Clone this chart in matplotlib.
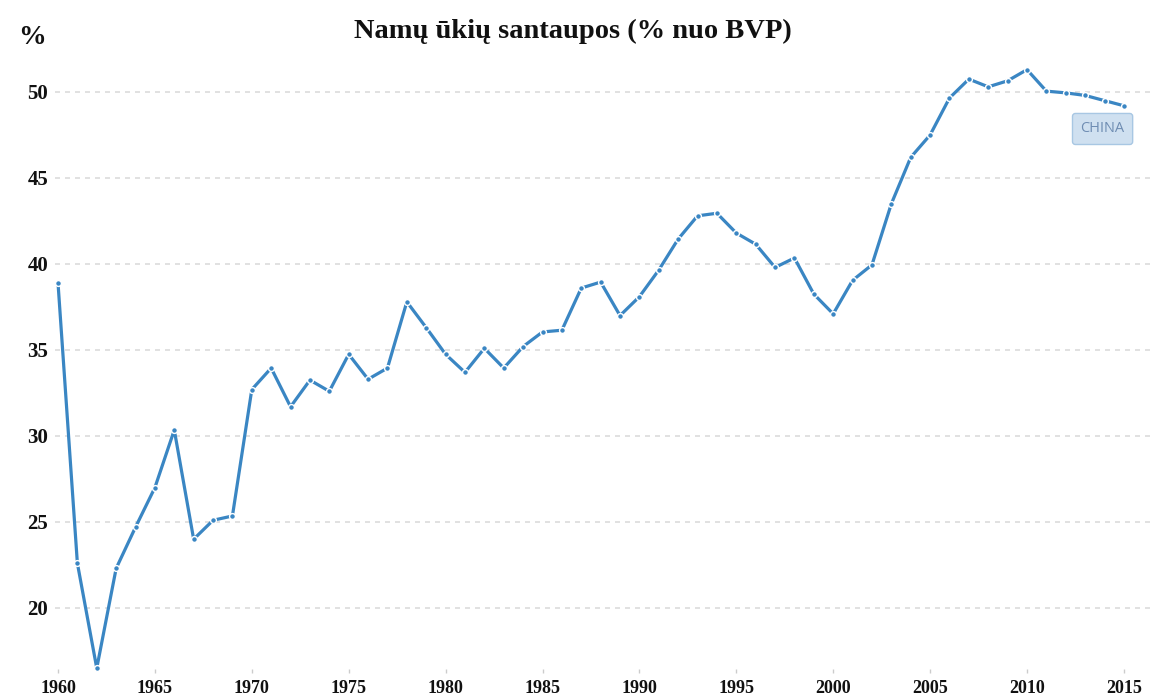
import matplotlib.pyplot as plt

# datos
anios = list(range(1960, 2016))
ahorro = [38.9, 22.6, 16.5, 22.3, 24.7, 27.0, 30.35, 24.0, 25.1, 25.35,
          32.7, 33.95, 31.7, 33.25, 32.6, 34.75, 33.3, 33.95, 37.8, 36.3,
          34.75, 33.7, 35.1, 33.95, 35.2, 36.05, 36.15, 38.6, 38.95, 37.0,
          38.1, 39.65, 41.45, 42.8, 42.95, 41.8, 41.15, 39.8, 40.35, 38.25,
          37.1, 39.05, 39.95, 43.5, 46.2, 47.5, 49.65, 50.75, 50.3, 50.65,
          51.3, 50.05, 49.95, 49.8, 49.5, 49.2]
ticks_x = [1960, 1965, 1970, 1975, 1980, 1985, 1990, 1995, 2000, 2005, 2010, 2015]
ticks_y = [20, 25, 30, 35, 40, 45, 50]

W, H = 1153, 697
fig = plt.figure(figsize=(W / 100, H / 100), dpi=100)
# ejes en pixeles: x 55..1150, y 40..669
ax = fig.add_axes([55 / W, (H - 669) / H, (1150 - 55) / W, (669 - 40) / H])

color = '#3a86c3'
ax.plot(anios, ahorro, color=color, lw=2.3, marker='o', ms=4.2,
        mfc=color, mec='white', mew=1.0, zorder=3, clip_on=False)

ax.set_xlim(1960 - 3 / 19.38, 1960 + (1150 - 58) / 19.38)
ax.set_ylim(50 - (669 - 92) / 17.2, 50 + (92 - 40) / 17.2)

ax.set_xticks(ticks_x)
ax.set_yticks(ticks_y)
ax.grid(axis='y', color='#dcdcdc', lw=1.2, ls=(0, (3, 3)))
ax.set_axisbelow(True)
for s in ax.spines.values():
    s.set_visible(False)

ax.tick_params(axis='x', length=3, width=1, color='#cccccc', pad=5,
               labelsize=13, labelcolor='#111111')
ax.tick_params(axis='y', length=0, pad=5, labelsize=15, labelcolor='#111111')
for lab in ax.get_xticklabels() + ax.get_yticklabels():
    lab.set_fontfamily('Liberation Serif')
    lab.set_fontweight('bold')

fig.text(573 / W, 1 - 31 / H, 'Namų ūkių santaupos (% nuo BVP)',
         ha='center', va='center', fontsize=20.5, fontweight='bold',
         family='Liberation Serif', color='#111111')
fig.text(18 / W, 1 - 38 / H, '%', ha='left', va='center', fontsize=20,
         fontweight='bold', family='Liberation Serif', color='#111111')

ax.text(2013.9, 47.85, 'CHINA', ha='center', va='center', fontsize=10.5,
        color='#6f8db3', family='Open Sans', zorder=4,
        bbox=dict(boxstyle='round,pad=0.55,rounding_size=0.2',
                  fc='#cfe0f0', ec='#a8c7e3', lw=1))

fig.savefig('out.png', dpi=100)
